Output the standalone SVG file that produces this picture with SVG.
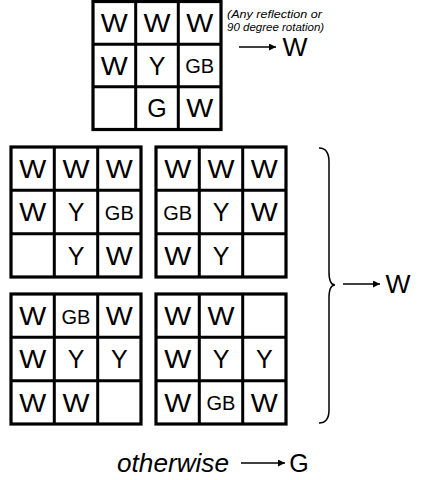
<svg xmlns="http://www.w3.org/2000/svg" width="425" height="480" viewBox="0 0 425 480">
<defs>
<style>
.frame{fill:#fff;stroke:#000;stroke-width:3.2}
.ln{stroke:#000;stroke-width:3}
.c{font-family:"Liberation Sans",Arial,sans-serif;font-size:25px;text-anchor:middle;fill:#000}
.gb{font-size:20px}
.it{font-family:"Liberation Sans",Arial,sans-serif;font-style:italic;fill:#000}
.con{stroke:#000;stroke-width:1.5;fill:none}
</style>
<marker id="ah" viewBox="0 0 10 10" refX="10" refY="5" markerWidth="9" markerHeight="7" markerUnits="userSpaceOnUse" orient="auto">
<path d="M0,0 L10,5 L0,10 Z" fill="#000"/>
</marker>
<g id="lines">
<path class="ln" d="M43.3,0 V130 M86.7,0 V130 M0,43.3 H130 M0,86.7 H130"/>
</g>
</defs>
<rect width="425" height="480" fill="#fff"/>

<g id="grid-top" transform="translate(93,1.5)">
<rect class="frame" x="0" y="0" width="128" height="128"/>
<path class="ln" d="M42.7,0 V128 M85.3,0 V128 M0,42.7 H128 M0,85.3 H128"/>
<text class="c" x="21.3" y="30.5" textLength="27" lengthAdjust="spacingAndGlyphs">W</text>
<text class="c" x="64" y="30.5" textLength="27" lengthAdjust="spacingAndGlyphs">W</text>
<text class="c" x="106.7" y="30.5" textLength="27" lengthAdjust="spacingAndGlyphs">W</text>
<text class="c" x="21.3" y="73" textLength="27" lengthAdjust="spacingAndGlyphs">W</text>
<text class="c" x="64" y="73">Y</text>
<text class="c gb" x="106.7" y="71.5">GB</text>
<text class="c" x="64" y="115.5">G</text>
<text class="c" x="106.7" y="115.5" textLength="27" lengthAdjust="spacingAndGlyphs">W</text>
</g>

<g id="note">
<text class="it" font-size="11.5" x="227" y="18" textLength="95" lengthAdjust="spacingAndGlyphs">(Any reflection or</text>
<text class="it" font-size="11.5" x="227" y="31">90 degree rotation)</text>
<text class="c" x="295" y="56" textLength="25" lengthAdjust="spacingAndGlyphs">W</text>
</g>

<g id="grid-a" transform="translate(11,147)">
<rect class="frame" x="0" y="0" width="130" height="130"/>
<use href="#lines"/>
<text class="c" x="21.7" y="31" textLength="27" lengthAdjust="spacingAndGlyphs">W</text>
<text class="c" x="65" y="31" textLength="27" lengthAdjust="spacingAndGlyphs">W</text>
<text class="c" x="108.3" y="31" textLength="27" lengthAdjust="spacingAndGlyphs">W</text>
<text class="c" x="21.7" y="74" textLength="27" lengthAdjust="spacingAndGlyphs">W</text>
<text class="c" x="65" y="74">Y</text>
<text class="c gb" x="108.3" y="72.5">GB</text>
<text class="c" x="65" y="117.5">Y</text>
<text class="c" x="108.3" y="117.5" textLength="27" lengthAdjust="spacingAndGlyphs">W</text>
</g>

<g id="grid-b" transform="translate(156,147)">
<rect class="frame" x="0" y="0" width="130" height="130"/>
<use href="#lines"/>
<text class="c" x="21.7" y="31" textLength="27" lengthAdjust="spacingAndGlyphs">W</text>
<text class="c" x="65" y="31" textLength="27" lengthAdjust="spacingAndGlyphs">W</text>
<text class="c" x="108.3" y="31" textLength="27" lengthAdjust="spacingAndGlyphs">W</text>
<text class="c gb" x="21.7" y="72.5">GB</text>
<text class="c" x="65" y="74">Y</text>
<text class="c" x="108.3" y="74" textLength="27" lengthAdjust="spacingAndGlyphs">W</text>
<text class="c" x="21.7" y="117.5" textLength="27" lengthAdjust="spacingAndGlyphs">W</text>
<text class="c" x="65" y="117.5">Y</text>
</g>

<g id="grid-c" transform="translate(11,294)">
<rect class="frame" x="0" y="0" width="130" height="130"/>
<use href="#lines"/>
<text class="c" x="21.7" y="31" textLength="27" lengthAdjust="spacingAndGlyphs">W</text>
<text class="c gb" x="65" y="29.5">GB</text>
<text class="c" x="108.3" y="31" textLength="27" lengthAdjust="spacingAndGlyphs">W</text>
<text class="c" x="21.7" y="74" textLength="27" lengthAdjust="spacingAndGlyphs">W</text>
<text class="c" x="65" y="74">Y</text>
<text class="c" x="108.3" y="74">Y</text>
<text class="c" x="21.7" y="117.5" textLength="27" lengthAdjust="spacingAndGlyphs">W</text>
<text class="c" x="65" y="117.5" textLength="27" lengthAdjust="spacingAndGlyphs">W</text>
</g>

<g id="grid-d" transform="translate(156,294)">
<rect class="frame" x="0" y="0" width="130" height="130"/>
<use href="#lines"/>
<text class="c" x="21.7" y="31" textLength="27" lengthAdjust="spacingAndGlyphs">W</text>
<text class="c" x="65" y="31" textLength="27" lengthAdjust="spacingAndGlyphs">W</text>
<text class="c" x="21.7" y="74" textLength="27" lengthAdjust="spacingAndGlyphs">W</text>
<text class="c" x="65" y="74">Y</text>
<text class="c" x="108.3" y="74">Y</text>
<text class="c" x="21.7" y="117.5" textLength="27" lengthAdjust="spacingAndGlyphs">W</text>
<text class="c gb" x="65" y="116">GB</text>
<text class="c" x="108.3" y="117.5" textLength="27" lengthAdjust="spacingAndGlyphs">W</text>
</g>

<g id="result-w">
<text class="c" x="398" y="293" textLength="25" lengthAdjust="spacingAndGlyphs">W</text>
</g>

<g id="otherwise">
<text class="it" font-size="25" x="117" y="472" textLength="112" lengthAdjust="spacingAndGlyphs">otherwise</text>
<text class="c" x="299" y="472">G</text>
</g>

<g id="connectors">
<line class="con" x1="239" y1="47" x2="276" y2="47" marker-end="url(#ah)"/>
<path class="con" d="M319,148 Q329,148 329,162 V272 Q329,285 335,285 Q329,285 329,298 V410 Q329,423 319,423"/>
<line class="con" x1="343" y1="284" x2="380" y2="284" marker-end="url(#ah)"/>
<line class="con" x1="241" y1="463" x2="285" y2="463" marker-end="url(#ah)"/>
</g>
</svg>
